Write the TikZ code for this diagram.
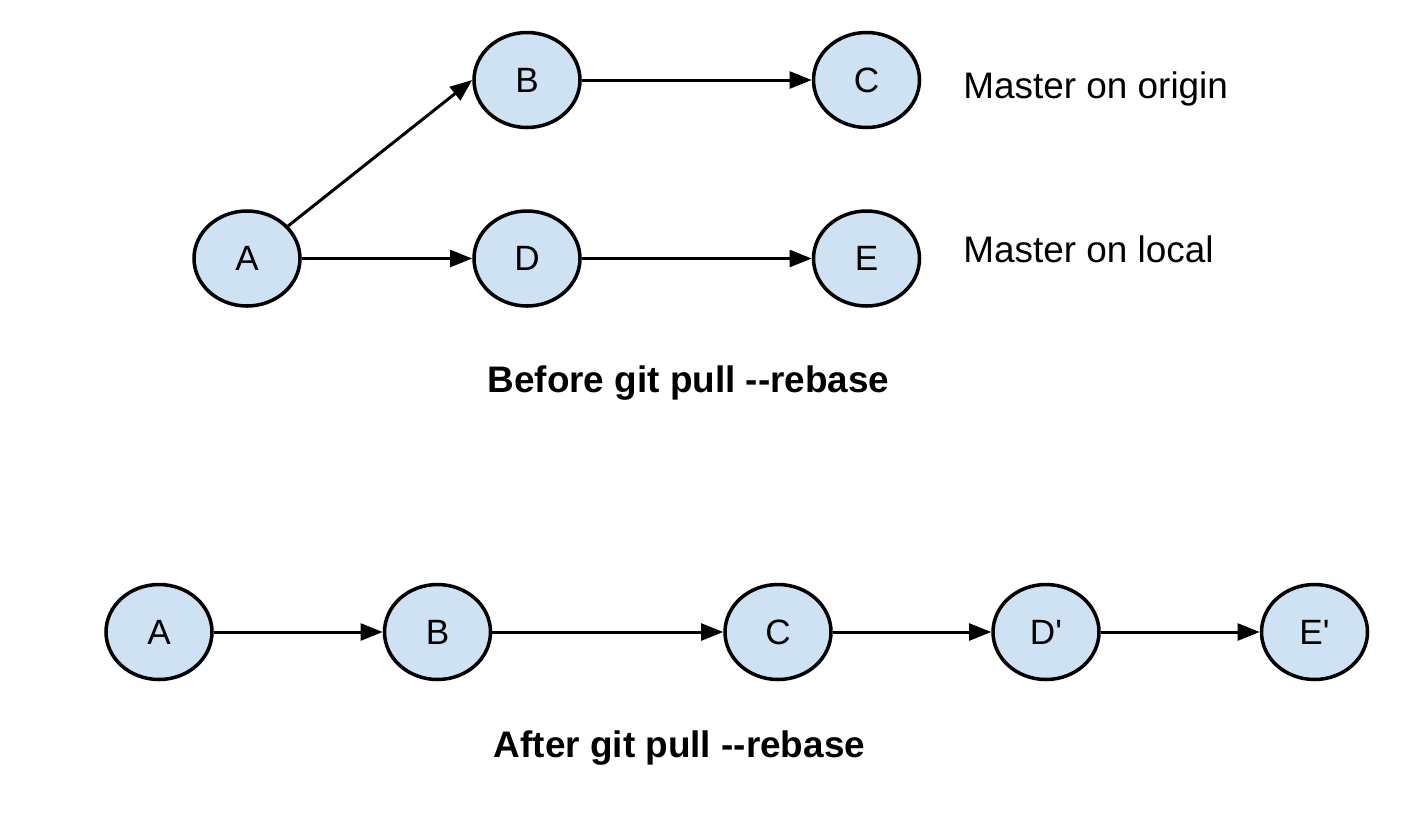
\documentclass[tikz,border=0pt]{standalone}
\usepackage{fontspec}
\setmainfont{Liberation Sans}
\usepackage{xcolor}
\usetikzlibrary{shapes.geometric,arrows.meta}
\definecolor{commitblue}{RGB}{207,226,243}
\tikzset{
    commit/.style={
        ellipse,
        draw=black,
        line width=1pt,
        fill=commitblue,
        minimum width=1.06cm,
        minimum height=0.95cm,
        inner sep=0pt,
        font=\fontsize{10}{12}\selectfont
    },
    % 提交之间的箭头
    commitarrow/.style={
        line width=0.85pt,
        black,
        -{Triangle[length=6.3pt, width=4.8pt]}
    },
    branchlabel/.style={anchor=base west, font=\fontsize{10.5}{12}\selectfont},
    caption/.style={anchor=base, font=\fontsize{10.5}{12}\selectfont\bfseries}
}
\begin{document}
\begin{tikzpicture}
\useasboundingbox (0,0) rectangle (14.26,-8.16);

% ===================== before =====================
\begin{scope}
\node[commit] (a1) at (2.47,-2.585) {A};
\node[commit] (b1) at (5.27,-0.80) {B};
\node[commit] (c1) at (8.665,-0.80) {C};
\node[commit] (d1) at (5.27,-2.585) {D};
\node[commit] (e1) at (8.665,-2.585) {E};

\draw[commitarrow] (a1) -- (b1.west);
\draw[commitarrow] (b1) -- (c1);
\draw[commitarrow] (a1) -- (d1);
\draw[commitarrow] (d1) -- (e1);

% label
\node[branchlabel] (origin) at (9.51,-0.98) {Master on origin};
\node[branchlabel] (local) at (9.51,-2.62) {Master on local};
\node[caption] (before) at (6.885,-3.92) {Before git pull -{}-rebase};
\end{scope}

% ===================== after =====================
\begin{scope}
\node[commit] (a2) at (1.59,-6.32) {A};
\node[commit] (b2) at (4.375,-6.32) {B};
\node[commit] (c2) at (7.78,-6.32) {C};
\node[commit] (d2) at (10.46,-6.32) {D\textquotesingle};
\node[commit] (e2) at (13.145,-6.32) {E\textquotesingle};

\draw[commitarrow] (a2) -- (b2);
\draw[commitarrow] (b2) -- (c2);
\draw[commitarrow] (c2) -- (d2);
\draw[commitarrow] (d2) -- (e2);

% label
\node[caption] (after) at (6.795,-7.57) {After git pull -{}-rebase};
\end{scope}
\end{tikzpicture}
\end{document}
